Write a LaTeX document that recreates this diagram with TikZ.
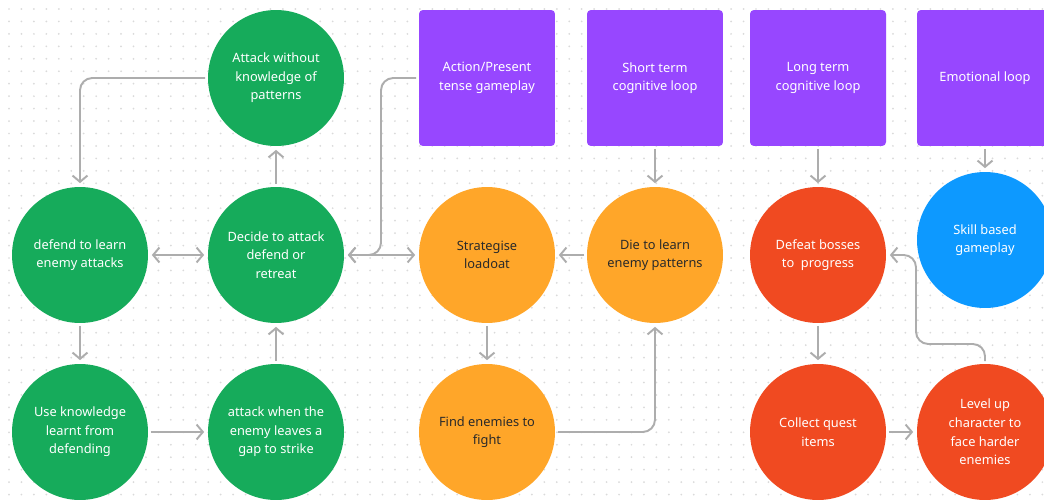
\documentclass[tikz,border=0pt]{standalone}
\usepackage{fontspec}
\setmainfont{Noto Sans}
\usetikzlibrary{arrows.meta}
\definecolor{cgreen}{HTML}{16AB5B}
\definecolor{corange}{HTML}{FFA629}
\definecolor{cred}{HTML}{F04A21}
\definecolor{cpurple}{HTML}{9747FF}
\definecolor{cblue}{HTML}{0D99FF}
\definecolor{cgray}{HTML}{ADADAD}
\definecolor{cdot}{HTML}{DADADA}
\definecolor{cdark}{HTML}{2A2A2A}
\tikzset{
  bub/.style={circle, minimum size=2.72cm, inner sep=0pt, align=center, text=white,
    font=\fontsize{7.3}{10.6}\selectfont},
  gbub/.style={bub, fill=cgreen},
  obub/.style={bub, fill=corange, text=cdark},
  rbub/.style={bub, fill=cred},
  bbub/.style={bub, fill=cblue},
  pbox/.style={rectangle, rounded corners=2.2pt, minimum width=2.72cm, minimum height=2.72cm,
    inner sep=0pt, fill=cpurple, text=white, align=center, font=\fontsize{7.3}{10.6}\selectfont},
  conn/.style={draw=cgray, line width=1.1pt, rounded corners=7pt,
    -{Straight Barb[length=3.6pt,width=8.5pt]}, shorten >=2pt, shorten <=1.5pt},
  dconn/.style={conn, {Straight Barb[length=3.6pt,width=8.5pt]}-{Straight Barb[length=3.6pt,width=8.5pt]}, shorten <=2pt}
}
\begin{document}
\begin{tikzpicture}[x=0.02cm,y=-0.02cm]
\useasboundingbox (0,0) rectangle (1044,500);
\clip (0,0) rectangle (1044,500);
\fill[white] (0,0) rectangle (1044,500);
\foreach \i in {0,...,83}{
  \foreach \j in {0,...,39}{
    \fill[cdot] (9+12.45*\i, 9+12.45*\j) circle (0.55pt);
  }
}
% purple boxes
\node[pbox] (act) at (487,78) {Action/Present\\tense gameplay};
\node[pbox] (short) at (655,78) {Short term\\cognitive loop};
\node[pbox] (long) at (818,78) {Long term\\cognitive loop};
\node[pbox] (emo) at (985,78) {Emotional loop};
% green
\node[gbub] (atk) at (276,78) {Attack without\\knowledge of\\patterns};
\node[gbub] (def) at (80,255) {defend to learn\\enemy attacks};
\node[gbub] (dec) at (276,255) {Decide to attack\\defend or\\retreat};
\node[gbub] (use) at (80,432) {Use knowledge\\learnt from\\defending};
\node[gbub] (awt) at (276,432) {attack when the\\enemy leaves a\\gap to strike};
% orange
\node[obub] (strat) at (487,255) {Strategise\\loadoat};
\node[obub] (die) at (655,255) {Die to learn\\enemy patterns};
\node[obub] (find) at (487,432) {Find enemies to\\fight};
% red / blue
\node[rbub] (defeat) at (818,255) {Defeat bosses\\to~ progress};
\node[rbub] (collect) at (818,432) {Collect quest\\items};
\node[rbub] (level) at (985,432) {Level up\\character to\\face harder\\enemies};
\node[bbub] (skill) at (985,240) {Skill based\\gameplay};
% coordinates
\coordinate (c1) at (381,255);
\coordinate (c2) at (985,344);
\coordinate (c3) at (916,344);
\coordinate (c4) at (916,255);
% connectors
\draw[conn] (atk.west) -| (def.north);
\draw[conn] (dec.north) -- (atk.south);
\draw[dconn] (def.east) -- (dec.west);
\draw[conn] (def.south) -- (use.north);
\draw[conn] (use.east) -- (awt.west);
\draw[conn] (awt.north) -- (dec.south);
\draw[dconn] (dec.east) -- (strat.west);
\draw[conn] (act.west) -| (c1) -- (dec.east);
\draw[conn] (short.south) -- (die.north);
\draw[conn] (die.west) -- (strat.east);
\draw[conn] (strat.south) -- (find.north);
\draw[conn] (find.east) -| (die.south);
\draw[conn] (long.south) -- (defeat.north);
\draw[conn] (emo.south) -- (skill.north);
\draw[conn] (defeat.south) -- (collect.north);
\draw[conn] (collect.east) -- (level.west);
\draw[conn] (level.north) -- (c2) -- (c3) -- (c4) -- (defeat.east);
\end{tikzpicture}
\end{document}
